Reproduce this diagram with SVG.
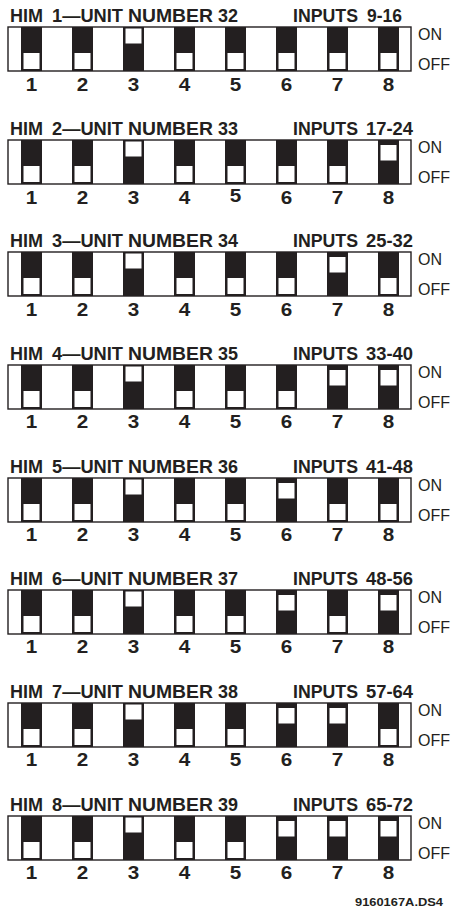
<svg xmlns="http://www.w3.org/2000/svg" xmlns:xlink="http://www.w3.org/1999/xlink" width="456" height="907" viewBox="0 0 456 907">
<style>
.t{font-family:"Liberation Sans",Arial,Helvetica,sans-serif;font-weight:bold;font-size:17.5px;fill:#231f20}
.n{font-family:"Liberation Sans",Arial,Helvetica,sans-serif;font-weight:bold;font-size:17.5px;fill:#231f20;text-anchor:middle}
.o{font-family:"Liberation Sans",Arial,Helvetica,sans-serif;font-size:16px;fill:#231f20}
.f{fill:#fff;stroke:#231f20;stroke-width:1.4}
.b{fill:#231f20}
.w{fill:#fff}
</style>
<defs>
<g id="off"><rect class="b" x="0" y="0" width="21" height="44"/><rect class="w" x="2.5" y="26" width="16" height="16"/></g>
<g id="on"><rect class="b" x="0" y="0" width="21" height="44"/><rect class="w" x="2.5" y="5" width="16" height="15.5"/></g>
<g id="on3"><rect class="b" x="0" y="0" width="21" height="44"/><rect class="w" x="2.5" y="1.5" width="16" height="15"/></g>
</defs>

<g id="him1">
<text class="t" x="10" y="22" textLength="33" lengthAdjust="spacingAndGlyphs">HIM</text>
<text class="t" x="52" y="22" textLength="71" lengthAdjust="spacingAndGlyphs">1—UNIT</text>
<text class="t" x="128" y="22" textLength="85" lengthAdjust="spacingAndGlyphs">NUMBER</text>
<text class="t" x="218" y="22" textLength="20" lengthAdjust="spacingAndGlyphs">32</text>
<text class="t" x="293" y="22" textLength="65" lengthAdjust="spacingAndGlyphs">INPUTS</text>
<text class="t" x="367" y="22" textLength="35" lengthAdjust="spacingAndGlyphs">9-16</text>
<rect class="f" x="8" y="27" width="403" height="44"/>
<use xlink:href="#off" x="21" y="27"/><use xlink:href="#off" x="72" y="27"/><use xlink:href="#on3" x="123" y="27"/><use xlink:href="#off" x="174" y="27"/><use xlink:href="#off" x="225" y="27"/><use xlink:href="#off" x="276" y="27"/><use xlink:href="#off" x="327" y="27"/><use xlink:href="#off" x="378" y="27"/>
<text class="o" x="418" y="39.5">ON</text><text class="o" x="418" y="70">OFF</text>
<text class="n" x="31.5" y="90.5" textLength="11.5" lengthAdjust="spacingAndGlyphs">1</text><text class="n" x="82.5" y="90.5" textLength="11.5" lengthAdjust="spacingAndGlyphs">2</text><text class="n" x="133.5" y="90.5" textLength="11.5" lengthAdjust="spacingAndGlyphs">3</text><text class="n" x="184.5" y="90.5" textLength="11.5" lengthAdjust="spacingAndGlyphs">4</text><text class="n" x="235.5" y="90.5" textLength="11.5" lengthAdjust="spacingAndGlyphs">5</text><text class="n" x="286.5" y="90.5" textLength="11.5" lengthAdjust="spacingAndGlyphs">6</text><text class="n" x="337.5" y="90.5" textLength="11.5" lengthAdjust="spacingAndGlyphs">7</text><text class="n" x="388.5" y="90.5" textLength="11.5" lengthAdjust="spacingAndGlyphs">8</text>
</g>

<g id="him2">
<text class="t" x="10" y="135" textLength="33" lengthAdjust="spacingAndGlyphs">HIM</text>
<text class="t" x="52" y="135" textLength="71" lengthAdjust="spacingAndGlyphs">2—UNIT</text>
<text class="t" x="128" y="135" textLength="85" lengthAdjust="spacingAndGlyphs">NUMBER</text>
<text class="t" x="218" y="135" textLength="20" lengthAdjust="spacingAndGlyphs">33</text>
<text class="t" x="293" y="135" textLength="65" lengthAdjust="spacingAndGlyphs">INPUTS</text>
<text class="t" x="366" y="135" textLength="47" lengthAdjust="spacingAndGlyphs">17-24</text>
<rect class="f" x="8" y="140" width="403" height="44"/>
<use xlink:href="#off" x="21" y="140"/><use xlink:href="#off" x="72" y="140"/><use xlink:href="#on3" x="123" y="140"/><use xlink:href="#off" x="174" y="140"/><use xlink:href="#off" x="225" y="140"/><use xlink:href="#off" x="276" y="140"/><use xlink:href="#off" x="327" y="140"/><use xlink:href="#on" x="378" y="140"/>
<text class="o" x="418" y="152.5">ON</text><text class="o" x="418" y="183">OFF</text>
<text class="n" x="31.5" y="203.5" textLength="11.5" lengthAdjust="spacingAndGlyphs">1</text><text class="n" x="82.5" y="203.5" textLength="11.5" lengthAdjust="spacingAndGlyphs">2</text><text class="n" x="133.5" y="203.5" textLength="11.5" lengthAdjust="spacingAndGlyphs">3</text><text class="n" x="184.5" y="203.5" textLength="11.5" lengthAdjust="spacingAndGlyphs">4</text><text class="n" x="235.5" y="201.5" textLength="11.5" lengthAdjust="spacingAndGlyphs">5</text><text class="n" x="286.5" y="203.5" textLength="11.5" lengthAdjust="spacingAndGlyphs">6</text><text class="n" x="337.5" y="203.5" textLength="11.5" lengthAdjust="spacingAndGlyphs">7</text><text class="n" x="388.5" y="203.5" textLength="11.5" lengthAdjust="spacingAndGlyphs">8</text>
</g>

<g id="him3">
<text class="t" x="10" y="247" textLength="33" lengthAdjust="spacingAndGlyphs">HIM</text>
<text class="t" x="52" y="247" textLength="71" lengthAdjust="spacingAndGlyphs">3—UNIT</text>
<text class="t" x="128" y="247" textLength="85" lengthAdjust="spacingAndGlyphs">NUMBER</text>
<text class="t" x="218" y="247" textLength="20" lengthAdjust="spacingAndGlyphs">34</text>
<text class="t" x="293" y="247" textLength="65" lengthAdjust="spacingAndGlyphs">INPUTS</text>
<text class="t" x="366" y="247" textLength="47" lengthAdjust="spacingAndGlyphs">25-32</text>
<rect class="f" x="8" y="252" width="403" height="44"/>
<use xlink:href="#off" x="21" y="252"/><use xlink:href="#off" x="72" y="252"/><use xlink:href="#on3" x="123" y="252"/><use xlink:href="#off" x="174" y="252"/><use xlink:href="#off" x="225" y="252"/><use xlink:href="#off" x="276" y="252"/><use xlink:href="#on" x="327" y="252"/><use xlink:href="#off" x="378" y="252"/>
<text class="o" x="418" y="264.5">ON</text><text class="o" x="418" y="295">OFF</text>
<text class="n" x="31.5" y="315.5" textLength="11.5" lengthAdjust="spacingAndGlyphs">1</text><text class="n" x="82.5" y="315.5" textLength="11.5" lengthAdjust="spacingAndGlyphs">2</text><text class="n" x="133.5" y="315.5" textLength="11.5" lengthAdjust="spacingAndGlyphs">3</text><text class="n" x="184.5" y="315.5" textLength="11.5" lengthAdjust="spacingAndGlyphs">4</text><text class="n" x="235.5" y="315.5" textLength="11.5" lengthAdjust="spacingAndGlyphs">5</text><text class="n" x="286.5" y="315.5" textLength="11.5" lengthAdjust="spacingAndGlyphs">6</text><text class="n" x="337.5" y="315.5" textLength="11.5" lengthAdjust="spacingAndGlyphs">7</text><text class="n" x="388.5" y="315.5" textLength="11.5" lengthAdjust="spacingAndGlyphs">8</text>
</g>

<g id="him4">
<text class="t" x="10" y="360" textLength="33" lengthAdjust="spacingAndGlyphs">HIM</text>
<text class="t" x="52" y="360" textLength="71" lengthAdjust="spacingAndGlyphs">4—UNIT</text>
<text class="t" x="128" y="360" textLength="85" lengthAdjust="spacingAndGlyphs">NUMBER</text>
<text class="t" x="218" y="360" textLength="20" lengthAdjust="spacingAndGlyphs">35</text>
<text class="t" x="293" y="360" textLength="65" lengthAdjust="spacingAndGlyphs">INPUTS</text>
<text class="t" x="366" y="360" textLength="47" lengthAdjust="spacingAndGlyphs">33-40</text>
<rect class="f" x="8" y="365" width="403" height="44"/>
<use xlink:href="#off" x="21" y="365"/><use xlink:href="#off" x="72" y="365"/><use xlink:href="#on3" x="123" y="365"/><use xlink:href="#off" x="174" y="365"/><use xlink:href="#off" x="225" y="365"/><use xlink:href="#off" x="276" y="365"/><use xlink:href="#on" x="327" y="365"/><use xlink:href="#on" x="378" y="365"/>
<text class="o" x="418" y="377.5">ON</text><text class="o" x="418" y="408">OFF</text>
<text class="n" x="31.5" y="428" textLength="11.5" lengthAdjust="spacingAndGlyphs">1</text><text class="n" x="82.5" y="428" textLength="11.5" lengthAdjust="spacingAndGlyphs">2</text><text class="n" x="133.5" y="428" textLength="11.5" lengthAdjust="spacingAndGlyphs">3</text><text class="n" x="184.5" y="428" textLength="11.5" lengthAdjust="spacingAndGlyphs">4</text><text class="n" x="235.5" y="428" textLength="11.5" lengthAdjust="spacingAndGlyphs">5</text><text class="n" x="286.5" y="428" textLength="11.5" lengthAdjust="spacingAndGlyphs">6</text><text class="n" x="337.5" y="428" textLength="11.5" lengthAdjust="spacingAndGlyphs">7</text><text class="n" x="388.5" y="428" textLength="11.5" lengthAdjust="spacingAndGlyphs">8</text>
</g>

<g id="him5">
<text class="t" x="10" y="473" textLength="33" lengthAdjust="spacingAndGlyphs">HIM</text>
<text class="t" x="52" y="473" textLength="71" lengthAdjust="spacingAndGlyphs">5—UNIT</text>
<text class="t" x="128" y="473" textLength="85" lengthAdjust="spacingAndGlyphs">NUMBER</text>
<text class="t" x="218" y="473" textLength="20" lengthAdjust="spacingAndGlyphs">36</text>
<text class="t" x="293" y="473" textLength="65" lengthAdjust="spacingAndGlyphs">INPUTS</text>
<text class="t" x="366" y="473" textLength="47" lengthAdjust="spacingAndGlyphs">41-48</text>
<rect class="f" x="8" y="478" width="403" height="44"/>
<use xlink:href="#off" x="21" y="478"/><use xlink:href="#off" x="72" y="478"/><use xlink:href="#on3" x="123" y="478"/><use xlink:href="#off" x="174" y="478"/><use xlink:href="#off" x="225" y="478"/><use xlink:href="#on" x="276" y="478"/><use xlink:href="#off" x="327" y="478"/><use xlink:href="#off" x="378" y="478"/>
<text class="o" x="418" y="490.5">ON</text><text class="o" x="418" y="521">OFF</text>
<text class="n" x="31.5" y="541" textLength="11.5" lengthAdjust="spacingAndGlyphs">1</text><text class="n" x="82.5" y="541" textLength="11.5" lengthAdjust="spacingAndGlyphs">2</text><text class="n" x="133.5" y="541" textLength="11.5" lengthAdjust="spacingAndGlyphs">3</text><text class="n" x="184.5" y="541" textLength="11.5" lengthAdjust="spacingAndGlyphs">4</text><text class="n" x="235.5" y="541" textLength="11.5" lengthAdjust="spacingAndGlyphs">5</text><text class="n" x="286.5" y="541" textLength="11.5" lengthAdjust="spacingAndGlyphs">6</text><text class="n" x="337.5" y="541" textLength="11.5" lengthAdjust="spacingAndGlyphs">7</text><text class="n" x="388.5" y="541" textLength="11.5" lengthAdjust="spacingAndGlyphs">8</text>
</g>

<g id="him6">
<text class="t" x="10" y="585" textLength="33" lengthAdjust="spacingAndGlyphs">HIM</text>
<text class="t" x="52" y="585" textLength="71" lengthAdjust="spacingAndGlyphs">6—UNIT</text>
<text class="t" x="128" y="585" textLength="85" lengthAdjust="spacingAndGlyphs">NUMBER</text>
<text class="t" x="218" y="585" textLength="20" lengthAdjust="spacingAndGlyphs">37</text>
<text class="t" x="293" y="585" textLength="65" lengthAdjust="spacingAndGlyphs">INPUTS</text>
<text class="t" x="366" y="585" textLength="47" lengthAdjust="spacingAndGlyphs">48-56</text>
<rect class="f" x="8" y="590" width="403" height="44"/>
<use xlink:href="#off" x="21" y="590"/><use xlink:href="#off" x="72" y="590"/><use xlink:href="#on3" x="123" y="590"/><use xlink:href="#off" x="174" y="590"/><use xlink:href="#off" x="225" y="590"/><use xlink:href="#on" x="276" y="590"/><use xlink:href="#off" x="327" y="590"/><use xlink:href="#on" x="378" y="590"/>
<text class="o" x="418" y="602.5">ON</text><text class="o" x="418" y="633">OFF</text>
<text class="n" x="31.5" y="653" textLength="11.5" lengthAdjust="spacingAndGlyphs">1</text><text class="n" x="82.5" y="653" textLength="11.5" lengthAdjust="spacingAndGlyphs">2</text><text class="n" x="133.5" y="653" textLength="11.5" lengthAdjust="spacingAndGlyphs">3</text><text class="n" x="184.5" y="653" textLength="11.5" lengthAdjust="spacingAndGlyphs">4</text><text class="n" x="235.5" y="653" textLength="11.5" lengthAdjust="spacingAndGlyphs">5</text><text class="n" x="286.5" y="653" textLength="11.5" lengthAdjust="spacingAndGlyphs">6</text><text class="n" x="337.5" y="653" textLength="11.5" lengthAdjust="spacingAndGlyphs">7</text><text class="n" x="388.5" y="653" textLength="11.5" lengthAdjust="spacingAndGlyphs">8</text>
</g>

<g id="him7">
<text class="t" x="10" y="698" textLength="33" lengthAdjust="spacingAndGlyphs">HIM</text>
<text class="t" x="52" y="698" textLength="71" lengthAdjust="spacingAndGlyphs">7—UNIT</text>
<text class="t" x="128" y="698" textLength="85" lengthAdjust="spacingAndGlyphs">NUMBER</text>
<text class="t" x="218" y="698" textLength="20" lengthAdjust="spacingAndGlyphs">38</text>
<text class="t" x="293" y="698" textLength="65" lengthAdjust="spacingAndGlyphs">INPUTS</text>
<text class="t" x="366" y="698" textLength="47" lengthAdjust="spacingAndGlyphs">57-64</text>
<rect class="f" x="8" y="703" width="403" height="44"/>
<use xlink:href="#off" x="21" y="703"/><use xlink:href="#off" x="72" y="703"/><use xlink:href="#on3" x="123" y="703"/><use xlink:href="#off" x="174" y="703"/><use xlink:href="#off" x="225" y="703"/><use xlink:href="#on" x="276" y="703"/><use xlink:href="#on" x="327" y="703"/><use xlink:href="#off" x="378" y="703"/>
<text class="o" x="418" y="715.5">ON</text><text class="o" x="418" y="746">OFF</text>
<text class="n" x="31.5" y="766" textLength="11.5" lengthAdjust="spacingAndGlyphs">1</text><text class="n" x="82.5" y="766" textLength="11.5" lengthAdjust="spacingAndGlyphs">2</text><text class="n" x="133.5" y="766" textLength="11.5" lengthAdjust="spacingAndGlyphs">3</text><text class="n" x="184.5" y="766" textLength="11.5" lengthAdjust="spacingAndGlyphs">4</text><text class="n" x="235.5" y="766" textLength="11.5" lengthAdjust="spacingAndGlyphs">5</text><text class="n" x="286.5" y="766" textLength="11.5" lengthAdjust="spacingAndGlyphs">6</text><text class="n" x="337.5" y="766" textLength="11.5" lengthAdjust="spacingAndGlyphs">7</text><text class="n" x="388.5" y="766" textLength="11.5" lengthAdjust="spacingAndGlyphs">8</text>
</g>

<g id="him8">
<text class="t" x="10" y="811" textLength="33" lengthAdjust="spacingAndGlyphs">HIM</text>
<text class="t" x="52" y="811" textLength="71" lengthAdjust="spacingAndGlyphs">8—UNIT</text>
<text class="t" x="128" y="811" textLength="85" lengthAdjust="spacingAndGlyphs">NUMBER</text>
<text class="t" x="218" y="811" textLength="20" lengthAdjust="spacingAndGlyphs">39</text>
<text class="t" x="293" y="811" textLength="65" lengthAdjust="spacingAndGlyphs">INPUTS</text>
<text class="t" x="366" y="811" textLength="47" lengthAdjust="spacingAndGlyphs">65-72</text>
<rect class="f" x="8" y="816" width="403" height="44"/>
<use xlink:href="#off" x="21" y="816"/><use xlink:href="#off" x="72" y="816"/><use xlink:href="#on3" x="123" y="816"/><use xlink:href="#off" x="174" y="816"/><use xlink:href="#off" x="225" y="816"/><use xlink:href="#on" x="276" y="816"/><use xlink:href="#on" x="327" y="816"/><use xlink:href="#on" x="378" y="816"/>
<text class="o" x="418" y="828.5">ON</text><text class="o" x="418" y="859">OFF</text>
<text class="n" x="31.5" y="879" textLength="11.5" lengthAdjust="spacingAndGlyphs">1</text><text class="n" x="82.5" y="879" textLength="11.5" lengthAdjust="spacingAndGlyphs">2</text><text class="n" x="133.5" y="879" textLength="11.5" lengthAdjust="spacingAndGlyphs">3</text><text class="n" x="184.5" y="879" textLength="11.5" lengthAdjust="spacingAndGlyphs">4</text><text class="n" x="235.5" y="879" textLength="11.5" lengthAdjust="spacingAndGlyphs">5</text><text class="n" x="286.5" y="879" textLength="11.5" lengthAdjust="spacingAndGlyphs">6</text><text class="n" x="337.5" y="879" textLength="11.5" lengthAdjust="spacingAndGlyphs">7</text><text class="n" x="388.5" y="879" textLength="11.5" lengthAdjust="spacingAndGlyphs">8</text>
</g>

<g id="connectors"/>

<text class="t" x="355" y="906" style="font-size:11.5px" textLength="88" lengthAdjust="spacingAndGlyphs">9160167A.DS4</text>
</svg>
